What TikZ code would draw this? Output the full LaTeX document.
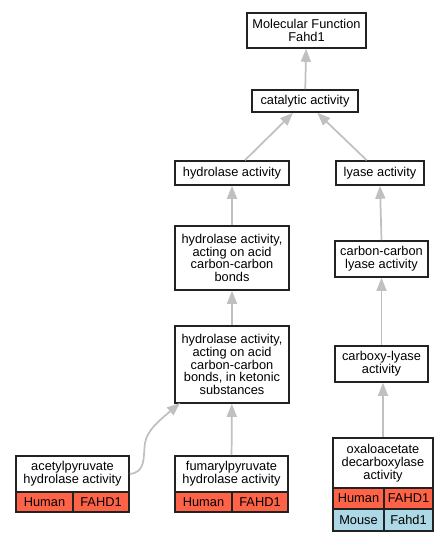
\documentclass[tikz,border=0pt]{standalone}
\usepackage{fontspec}
\setmainfont{Liberation Sans}
\usetikzlibrary{arrows.meta}
\definecolor{edgegray}{HTML}{C0C0C0}
\definecolor{humanred}{HTML}{FF6347}
\definecolor{mouseblue}{HTML}{ADD8E6}
\definecolor{border}{HTML}{222222}
\begin{document}
\begin{tikzpicture}[x=0.75pt,y=-0.75pt,
  term/.style={draw=border,line width=1.2pt,fill=white,inner sep=0pt,align=center,
    font=\fontsize{9.6}{9.6}\selectfont},
  cellh/.style={term,fill=humanred},
  cellm/.style={term,fill=mouseblue},
  isa/.style={draw=edgegray,line width=1.3pt,-{Triangle[length=13pt*0.75,width=10pt*0.75]}}]
\useasboundingbox (0,0) rectangle (448,541);
% nodes
\node[term,minimum width=119*0.75pt,minimum height=35*0.75pt] (mf) at (306.5,30.5) {Molecular Function\\Fahd1};
\node[term,minimum width=106*0.75pt,minimum height=22*0.75pt] (cat) at (305,101) {catalytic activity};
\node[term,minimum width=114*0.75pt,minimum height=24*0.75pt] (hyd) at (232,173) {hydrolase activity};
\node[term,minimum width=88*0.75pt,minimum height=24*0.75pt] (lya) at (380,173) {lyase activity};
\node[term,minimum width=114*0.75pt,minimum height=64*0.75pt] (acb) at (232,258) {hydrolase activity,\\acting on acid\\carbon-carbon\\bonds};
\node[term,minimum width=93*0.75pt,minimum height=36*0.75pt] (ccl) at (381.5,259) {carbon-carbon\\lyase activity};
\node[term,minimum width=114*0.75pt,minimum height=77*0.75pt] (ket) at (232,364.5) {hydrolase activity,\\acting on acid\\carbon-carbon\\bonds, in ketonic\\substances};
\node[term,minimum width=93*0.75pt,minimum height=36*0.75pt] (cxl) at (381.5,364) {carboxy-lyase\\activity};
% acetylpyruvate
\node[term,minimum width=113*0.75pt,minimum height=36*0.75pt] (ach) at (72.5,474) {acetylpyruvate\\hydrolase activity};
\node[cellh,minimum width=57*0.75pt,minimum height=20*0.75pt] (ac1) at (44.5,502) {Human};
\node[cellh,minimum width=56*0.75pt,minimum height=20*0.75pt] (ac2) at (101,502) {FAHD1};
% fumarylpyruvate
\node[term,minimum width=113*0.75pt,minimum height=36*0.75pt] (fuh) at (231.5,474) {fumarylpyruvate\\hydrolase activity};
\node[cellh,minimum width=57*0.75pt,minimum height=20*0.75pt] (fu1) at (203.5,502) {Human};
\node[cellh,minimum width=56*0.75pt,minimum height=20*0.75pt] (fu2) at (260,502) {FAHD1};
% oxaloacetate
\node[term,minimum width=100*0.75pt,minimum height=50*0.75pt] (oxh) at (383,463) {oxaloacetate\\decarboxylase\\activity};
\node[cellh,minimum width=51*0.75pt,minimum height=21*0.75pt] (ox1) at (358.5,498.5) {Human};
\node[cellh,minimum width=49*0.75pt,minimum height=21*0.75pt] (ox2) at (408.5,498.5) {FAHD1};
\node[cellm,minimum width=51*0.75pt,minimum height=22*0.75pt] (ox3) at (358.5,520) {Mouse};
\node[cellm,minimum width=49*0.75pt,minimum height=22*0.75pt] (ox4) at (408.5,520) {Fahd1};
% edges
\coordinate (kt) at (180,403);
\draw[isa] (cat) -- (mf);
\draw[isa] (hyd) -- (cat);
\draw[isa] (lya) -- (cat);
\draw[isa] (acb) -- (hyd);
\draw[isa] (ccl.north) -- (lya.south);
\draw[isa] (ket) -- (acb);
\draw[isa] (cxl) -- (ccl);
\draw[isa] (fuh) -- (ket);
\draw[isa] (oxh.north) -- (cxl.south -| oxh.north);
\draw[isa] (ach.east) .. controls (146,472) and (143,458) .. (145,443)
  .. controls (147,430) and (160,420) .. (kt);
\end{tikzpicture}
\end{document}
